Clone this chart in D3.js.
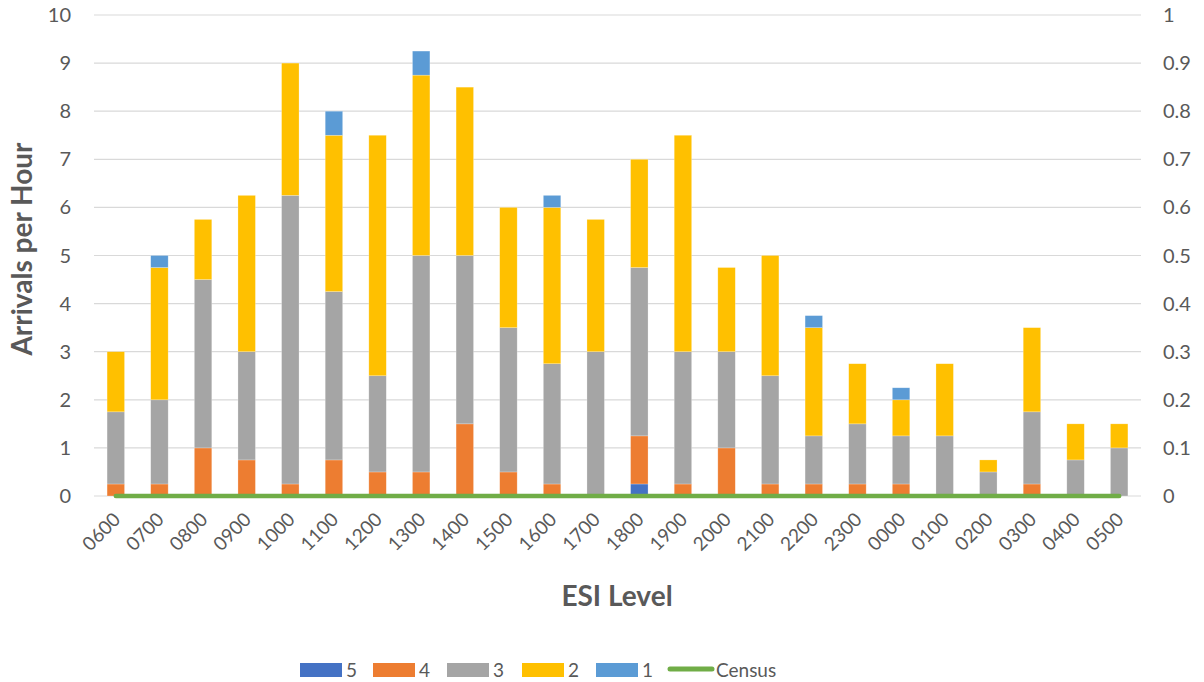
<!DOCTYPE html>
<html>
<head>
<meta charset="utf-8">
<script src="https://cdn.jsdelivr.net/npm/d3@7"></script>
<style>
  body { margin: 0; background: #fff; }
  svg { font-family: Lato, "Open Sans", sans-serif; }
</style>
</head>
<body>
<svg id="chart" width="1204" height="682"></svg>
<script>
// hours on the x axis
var hours = ["0600","0700","0800","0900","1000","1100","1200","1300","1400","1500","1600","1700",
             "1800","1900","2000","2100","2200","2300","0000","0100","0200","0300","0400","0500"];

// arrivals per hour by ESI level
var esi5 = [0,0,0,0,0,0,0,0,0,0,0,0, 0.25,0,0,0,0,0,0,0,0,0,0,0];
var esi4 = [0.25,0.25,1,0.75,0.25,0.75,0.5,0.5,1.5,0.5,0.25,0, 1,0.25,1,0.25,0.25,0.25,0.25,0,0,0.25,0,0];
var esi3 = [1.5,1.75,3.5,2.25,6,3.5,2,4.5,3.5,3,2.5,3, 3.5,2.75,2,2.25,1,1.25,1,1.25,0.5,1.5,0.75,1];
var esi2 = [1.25,2.75,1.25,3.25,2.75,3.25,5,3.75,3.5,2.5,3.25,2.75, 2.25,4.5,1.75,2.5,2.25,1.25,0.75,1.5,0.25,1.75,0.75,0.5];
var esi1 = [0,0.25,0,0,0,0.5,0,0.5,0,0,0.25,0, 0,0,0,0,0.25,0,0.25,0,0,0,0,0];
var census = [0,0,0,0,0,0,0,0,0,0,0,0,0,0,0,0,0,0,0,0,0,0,0,0];

var leftTicks = [0,1,2,3,4,5,6,7,8,9,10];
var rightTicks = [0,0.1,0.2,0.3,0.4,0.5,0.6,0.7,0.8,0.9,1];

var keys = ["5","4","3","2","1"];
var colors = { "5": "#4472C4", "4": "#ED7D31", "3": "#A5A5A5", "2": "#FFC000", "1": "#5B9BD5" };

var rows = hours.map(function(h, i) {
  return { hour: h, "5": esi5[i], "4": esi4[i], "3": esi3[i], "2": esi2[i], "1": esi1[i], census: census[i] };
});

var svg = d3.select("#chart");
var plotLeft = 94, plotRight = 1141, plotTop = 15, plotBottom = 496;

var x = d3.scaleBand().domain(hours).range([plotLeft, plotRight]).paddingInner(0.6).paddingOuter(0.3);
var y = d3.scaleLinear().domain([0, 10]).range([plotBottom, plotTop]);
var y2 = d3.scaleLinear().domain([0, 1]).range([plotBottom, plotTop]);

// gridlines
svg.append("g").selectAll("line")
  .data(leftTicks)
  .enter().append("line")
  .attr("x1", plotLeft).attr("x2", plotRight)
  .attr("y1", function(d) { return y(d); })
  .attr("y2", function(d) { return y(d); })
  .attr("stroke", "#D9D9D9")
  .attr("stroke-width", 1.2);

// left axis labels
svg.append("g").selectAll("text")
  .data(leftTicks)
  .enter().append("text")
  .attr("x", 71)
  .attr("y", function(d) { return y(d); })
  .attr("dy", "0.35em")
  .attr("text-anchor", "end")
  .attr("font-size", 20)
  .attr("fill", "#595959")
  .text(function(d) { return d; });

// right axis labels
svg.append("g").selectAll("text")
  .data(rightTicks)
  .enter().append("text")
  .attr("x", 1163)
  .attr("y", function(d) { return y2(d); })
  .attr("dy", "0.35em")
  .attr("text-anchor", "start")
  .attr("font-size", 20)
  .attr("fill", "#595959")
  .text(function(d) { return d; });

// stacked bars
var stacked = d3.stack().keys(keys)(rows);
svg.append("g").selectAll("g")
  .data(stacked)
  .enter().append("g")
  .attr("fill", function(d) { return colors[d.key]; })
  .selectAll("rect")
  .data(function(d) { return d; })
  .enter().append("rect")
  .attr("x", function(d) { return x(d.data.hour); })
  .attr("width", x.bandwidth())
  .attr("y", function(d) { return y(d[1]); })
  .attr("height", function(d) { return y(d[0]) - y(d[1]); })
  .attr("stroke", "#fff")
  .attr("stroke-opacity", 0.4)
  .attr("stroke-width", 0.6);

// census line on secondary axis
var line = d3.line()
  .x(function(d) { return x(d.hour) + x.bandwidth() / 2; })
  .y(function(d) { return y2(d.census); });
svg.append("path")
  .datum(rows)
  .attr("d", line)
  .attr("fill", "none")
  .attr("stroke", "#70AD47")
  .attr("stroke-width", 4.5)
  .attr("stroke-linecap", "round");

// x tick labels
svg.append("g").selectAll("text")
  .data(hours)
  .enter().append("text")
  .attr("transform", function(d) {
    return "translate(" + (x(d) + x.bandwidth() / 2 + 1) + "," + 516 + ") rotate(-45)";
  })
  .attr("text-anchor", "end")
  .attr("dy", "0.35em")
  .attr("font-size", 19)
  .attr("fill", "#595959")
  .text(function(d) { return d; });

// axis titles
svg.append("text")
  .attr("x", 617).attr("y", 606)
  .attr("text-anchor", "middle")
  .attr("font-size", 28)
  .attr("font-weight", "bold")
  .attr("fill", "#595959")
  .text("ESI Level");

svg.append("text")
  .attr("transform", "translate(32,249) rotate(-90)")
  .attr("text-anchor", "middle")
  .attr("font-size", 28)
  .attr("font-weight", "bold")
  .attr("fill", "#595959")
  .text("Arrivals per Hour");

// legend
var legendX = [300, 373, 447, 522, 596];
var legend = svg.append("g");
keys.forEach(function(k, i) {
  legend.append("rect")
    .attr("x", legendX[i]).attr("y", 663)
    .attr("width", 42).attr("height", 14)
    .attr("fill", colors[k]);
  legend.append("text")
    .attr("x", legendX[i] + 46).attr("y", 670)
    .attr("dy", "0.35em")
    .attr("font-size", 19)
    .attr("fill", "#595959")
    .text(k);
});
legend.append("line")
  .attr("x1", 670).attr("x2", 712)
  .attr("y1", 669).attr("y2", 669)
  .attr("stroke", "#70AD47")
  .attr("stroke-width", 5)
  .attr("stroke-linecap", "round");
legend.append("text")
  .attr("x", 716).attr("y", 670)
  .attr("dy", "0.35em")
  .attr("font-size", 19)
  .attr("fill", "#595959")
  .text("Census");
</script>
</body>
</html>
